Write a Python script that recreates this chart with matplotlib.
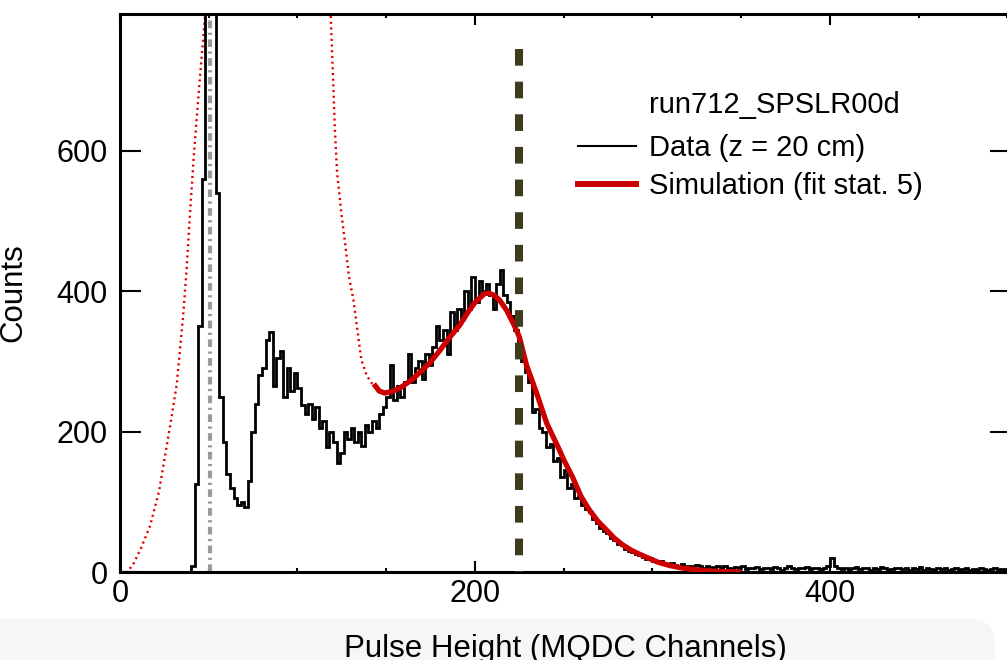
"""Pulse height spectrum, data vs. simulation (run712_SPSLR00d)."""

import matplotlib

matplotlib.use("Agg")
import matplotlib.pyplot as plt  # noqa: E402
import numpy as np  # noqa: E402
from matplotlib.lines import Line2D  # noqa: E402
from matplotlib.patches import FancyBboxPatch  # noqa: E402
from matplotlib.ticker import MultipleLocator  # noqa: E402

plt.rcParams["font.family"] = ["Liberation Sans", "DejaVu Sans"]
plt.rcParams["lines.scale_dashes"] = False

# measured spectrum, 2-channel bins starting at channel 0
bin_width = 2
counts = [0] * 20 + [
    8, 125, 350, 560, 1400, 2600, 1900, 540, 250, 185,
    140, 120, 105, 95, 100, 92, 130, 200, 240, 280,
    290, 330, 342, 265, 305, 315, 250, 290, 258, 284,
    262, 238, 225, 240, 218, 235, 205, 215, 178, 200,
    185, 155, 170, 200, 190, 205, 185, 200, 180, 210,
    200, 215, 205, 225, 235, 250, 295, 245, 265, 250,
    270, 310, 270, 290, 300, 275, 310, 295, 320, 350,
    330, 345, 310, 370, 345, 375, 360, 400, 375, 420,
    385, 415, 400, 410, 395, 375, 410, 430, 395, 385,
    365, 345, 320, 300, 285, 270, 228, 232, 205, 200,
    178, 182, 158, 162, 135, 145, 120, 125, 105, 108,
    95, 90, 85, 75, 70, 62, 58, 55, 48, 45,
    40, 38, 33, 30, 28, 25, 24, 22, 18, 20,
    16, 14, 15, 12, 11, 13, 10, 9, 11, 8,
    9, 7, 10, 8, 6, 9, 7, 6, 8, 5,
    9,
    6, 4, 7, 5, 8, 4, 6, 5, 7, 4,
    5, 6, 4, 7, 5, 3, 6, 8, 5, 4,
    6, 5, 7, 4, 5, 6, 4, 5, 9,
    20,
    8, 5, 4, 6, 3, 5, 7, 4, 6, 5,
    3, 6, 4, 7, 5, 3, 4, 6, 5, 4,
    6, 3, 5, 4, 7, 3, 5, 4, 3, 5,
    4, 6, 3, 4, 5, 3, 4, 5, 3, 4,
    3, 5, 4, 3, 4, 5, 3, 4, 3,
]
edges = np.arange(len(counts) + 1) * bin_width

# simulated spectrum
sim_x = [0, 4, 7.5, 12, 17, 22, 26, 29, 32, 35.6, 37.5, 39.4, 41.5, 44, 48,
         52, 60, 75, 90, 105, 114, 116.5, 118.7, 120, 121, 122.3, 124.8, 127,
         129, 131.5, 134, 136, 139, 141.8, 143, 146, 149, 153, 157.7, 165,
         170, 174.6, 180, 185, 191.5, 196, 200, 205.6, 208, 211, 214, 218,
         222, 225, 229, 234.7, 240.4, 246.8, 250, 255, 259.7, 264, 269, 274,
         278.6, 283, 288, 293, 297.5, 303, 310, 316, 325, 335, 350, 500]
sim_y = [0, 0, 11, 35, 66, 115, 175, 220, 268, 366, 430, 509, 590, 672, 795,
         930, 1300, 1700, 1600, 1200, 1000, 880, 793, 706, 635, 569, 509, 465,
         421, 388, 340, 302, 280, 269, 268, 258, 255, 257, 262, 275,
         287, 298, 315, 332, 352, 370, 384, 397, 397, 394, 387, 372,
         352, 335, 295, 255, 212, 178, 160, 135, 108, 90, 73, 60,
         48, 39, 31, 25, 20, 14, 9, 6, 3, 1, 0, 0]
fit_range = (143, 350)

pedestal_x = 50.5
edge_x = 225
edge_top = 745

fig = plt.figure(figsize=(10.07, 6.6), dpi=100)
ax = fig.add_axes([120 / 1007, 88 / 660, 891 / 1007, 558 / 660])

sx = np.array(sim_x)
sy = np.array(sim_y)
in_fit = (sx >= fit_range[0]) & (sx <= fit_range[1])

ax.plot(sx, sy, color="#e00000", lw=1.7, linestyle=(0, (1.5, 2.6)), zorder=2)
ax.axvline(pedestal_x, color="#9a9a9a", lw=3,
           linestyle=(0, (5.5, 3.2, 1.6, 3.2)), zorder=2)
ax.stairs(counts, edges, color="black", lw=2.0, zorder=3)
ax.plot(sx[in_fit], sy[in_fit], color="#cc0000", lw=3.8,
        solid_capstyle="butt", zorder=4)
ax.plot([edge_x, edge_x], [edge_top, 0], color="#3f3b1d", lw=5.8,
        linestyle=(0, (12, 11.5)), zorder=5)

ax.set_xlim(0, 502)
ax.set_ylim(0, 795)
ax.xaxis.set_major_locator(MultipleLocator(200))
ax.xaxis.set_minor_locator(MultipleLocator(50))
ax.yaxis.set_major_locator(MultipleLocator(200))
for s in ax.spines.values():
    s.set_linewidth(2.2)
ax.tick_params(axis="x", which="major", direction="in", length=8, width=1.5,
               top=True, pad=5, labelsize=22)
ax.tick_params(axis="x", which="minor", direction="in", length=3, width=1.5,
               top=True)
ax.tick_params(axis="y", which="major", direction="in", length=15, width=1.5,
               right=True, pad=9, labelsize=22)

ax.set_xlabel("Pulse Height (MQDC Channels)", fontsize=22.5, labelpad=18)
ax.set_ylabel("Counts", fontsize=22.5, labelpad=20)

ax.text(0.594, 0.837, "run712_SPSLR00d", transform=ax.transAxes,
        fontsize=21, va="center", ha="left")
handles = [
    Line2D([], [], color="black", lw=1.5),
    Line2D([], [], color="#cc0000", lw=4.3),
]
ax.legend(handles, ["Data (z = 20 cm)", "Simulation (fit stat. 5)"],
          loc="upper left", bbox_to_anchor=(0.514, 0.785), frameon=False,
          fontsize=21, borderpad=0, borderaxespad=0, handlelength=2.0,
          handletextpad=0.45, labelspacing=0.35)

# grey strip along the bottom edge of the screenshot
strip = FancyBboxPatch((-0.5, -0.5), 10.45, 0.91,
                       boxstyle="round,pad=0,rounding_size=0.25",
                       transform=fig.dpi_scale_trans, fc="#f6f6f6",
                       ec="none", zorder=-1)
fig.add_artist(strip)

fig.savefig("out.png", dpi=100)
